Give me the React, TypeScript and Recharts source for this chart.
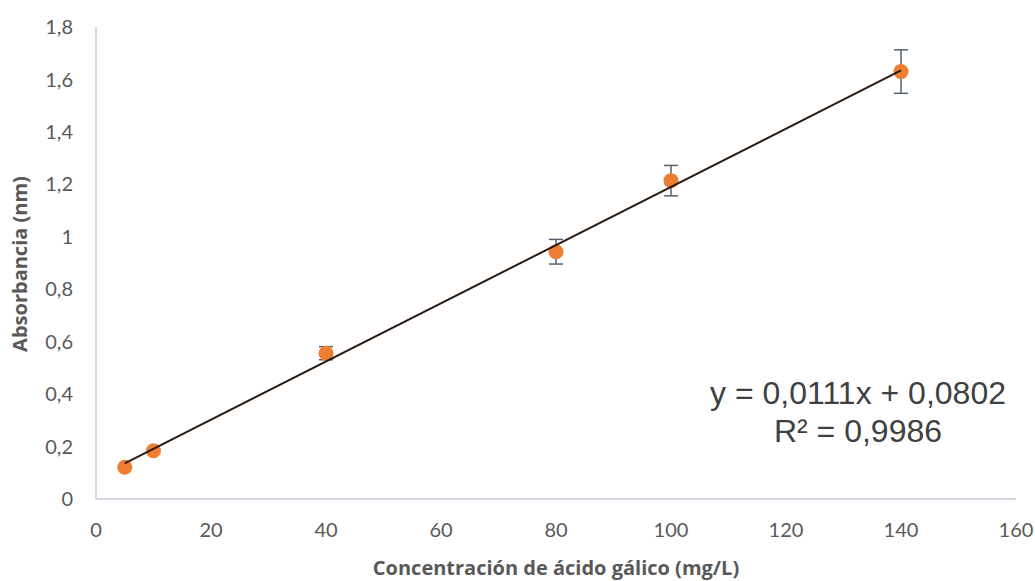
import React from 'react';
import { ScatterChart, Scatter, XAxis, YAxis, ErrorBar } from 'recharts';

// Gallic acid calibration points
const concentration = [5, 10, 40, 80, 100, 140];
const absorbance = [0.121, 0.184, 0.556, 0.943, 1.214, 1.63];
const stdDev = [0, 0, 0.025, 0.047, 0.058, 0.083];

// Linear fit y = 0,0111x + 0,0802, drawn between first and last standard
const fitX = [5, 140];
const fitY = [0.1357, 1.6342];

const xTicks = [0, 20, 40, 60, 80, 100, 120, 140, 160];
const yTicks = [0, 0.2, 0.4, 0.6, 0.8, 1, 1.2, 1.4, 1.6, 1.8];

const equationLines = ['y = 0,0111x + 0,0802', 'R² = 0,9986'];

const points = concentration.map((x, i) => ({ x, y: absorbance[i], err: stdDev[i] }));
const fit = fitX.map((x, i) => ({ x, y: fitY[i] }));

const AXIS = '#c3cad8';
const TEXT = '#595959';
const FONT = 'Lato, "Open Sans", sans-serif';
const TITLE_FONT = '"Open Sans", Lato, sans-serif';

const fmt = (v: number) => String(v).replace('.', ',');

const Dot = (props: any) => <circle cx={props.cx} cy={props.cy} r={7.5} fill="#ED7D31" />;

export default function App() {
  return (
    <div style={{ position: 'relative', width: 1035, height: 581, background: '#fff' }}>
      <style>{'body{margin:0}'}</style>
      <ScatterChart width={1035} height={581} margin={{ top: 27, right: 19, bottom: 0, left: 0 }}>
        <XAxis
          type="number"
          dataKey="x"
          domain={[0, 160]}
          ticks={xTicks}
          height={82}
          stroke={AXIS}
          strokeWidth={1.4}
          tickLine={false}
          tickMargin={18}
          tick={{ fill: TEXT, fontSize: 20, fontFamily: FONT }}
          allowDataOverflow
        />
        <YAxis
          type="number"
          dataKey="y"
          domain={[0, 1.8]}
          ticks={yTicks}
          width={96}
          stroke={AXIS}
          strokeWidth={1.4}
          tickLine={false}
          tickMargin={17}
          tickFormatter={fmt}
          tick={{ fill: TEXT, fontSize: 20, fontFamily: FONT }}
          allowDataOverflow
        />
        <Scatter data={points} shape={Dot} isAnimationActive={false}>
          <ErrorBar dataKey="err" direction="y" width={7} stroke="#56606e" strokeWidth={1.5} />
        </Scatter>
        <Scatter
          data={fit}
          line={{ stroke: '#2b1a10', strokeWidth: 2 }}
          shape={() => <g />}
          isAnimationActive={false}
        />
      </ScatterChart>
      <svg
        width={1035}
        height={581}
        style={{ position: 'absolute', left: 0, top: 0, pointerEvents: 'none' }}
      >
        <text
          x={556}
          y={575}
          textAnchor="middle"
          fill={TEXT}
          fontFamily={TITLE_FONT}
          fontWeight="bold"
          fontSize={20}
        >
          Concentración de ácido gálico (mg/L)
        </text>
        <text
          transform="translate(27,264) rotate(-90)"
          textAnchor="middle"
          fill={TEXT}
          fontFamily={TITLE_FONT}
          fontWeight="bold"
          fontSize={20}
        >
          Absorbancia (nm)
        </text>
        {equationLines.map((line, i) => (
          <text
            key={line}
            x={858}
            y={404 + i * 38}
            textAnchor="middle"
            fill="#404040"
            fontFamily='"Liberation Sans", Arial, sans-serif'
            fontSize={32}
          >
            {line}
          </text>
        ))}
      </svg>
    </div>
  );
}
